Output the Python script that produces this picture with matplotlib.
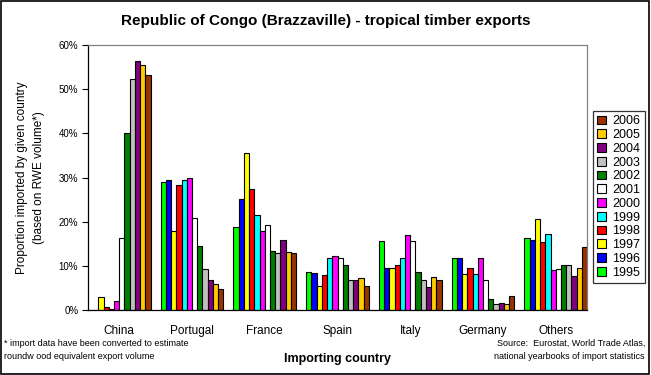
import matplotlib
matplotlib.use("Agg")
import matplotlib.pyplot as plt
import numpy as np
from matplotlib.patches import Rectangle, Patch

plt.rcParams['font.family'] = ['Liberation Sans', 'DejaVu Sans']

countries = ["China", "Portugal", "France", "Spain", "Italy", "Germany", "Others"]
years = ["1995", "1996", "1997", "1998", "1999", "2000",
         "2001", "2002", "2003", "2004", "2005", "2006"]

# share (%) imported by each country, one list per year
y1995 = [0.0, 28.9, 18.7, 8.5, 15.6, 11.7, 16.2]
y1996 = [0.0, 29.4, 25.1, 8.3, 9.4, 11.7, 15.8]
y1997 = [3.0, 17.8, 35.5, 5.4, 9.4, 8.1, 20.5]
y1998 = [0.75, 28.2, 27.5, 7.9, 10.3, 9.4, 15.3]
y1999 = [0.15, 29.4, 21.4, 11.7, 11.7, 8.1, 17.1]
y2000 = [2.0, 30.0, 17.8, 12.2, 16.9, 11.7, 9.0]
y2001 = [16.2, 20.8, 19.2, 11.7, 15.6, 6.7, 9.2]
y2002 = [40.0, 14.6, 13.3, 10.3, 8.5, 2.4, 10.1]
y2003 = [52.2, 9.2, 12.8, 6.9, 6.7, 1.3, 10.1]
y2004 = [56.3, 6.7, 15.8, 6.7, 5.1, 1.5, 7.6]
y2005 = [55.4, 5.8, 13.1, 7.2, 7.4, 1.3, 9.4]
y2006 = [53.1, 4.75, 12.8, 5.4, 6.7, 3.1, 14.2]

series = [y1995, y1996, y1997, y1998, y1999, y2000,
          y2001, y2002, y2003, y2004, y2005, y2006]
colors = ["#00FF00", "#0000FF", "#FFFF00", "#FF0000", "#00FFFF", "#FF00FF",
          "#FFFFFF", "#008000", "#C0C0C0", "#800080", "#FFCC00", "#993300"]

fig = plt.figure(figsize=(6.51, 3.75), dpi=100)
ax = fig.add_axes([88 / 651, 65 / 375, 499 / 651, 265 / 375])

group = 0.86
w = group / len(years)
x = np.arange(len(countries))
for i, (vals, c) in enumerate(zip(series, colors)):
    ax.bar(x - group / 2 + w * (i + 0.5), vals, width=w, color=c,
           edgecolor="black", linewidth=0.8, label=years[i])

ax.set_xlim(-group / 2, len(countries) - 1 + group / 2)
ax.set_ylim(0, 60)
ax.set_yticks(range(0, 61, 10))
ax.set_yticklabels([f"{v}%" for v in range(0, 61, 10)], fontsize=7)
ax.set_xticks(x)
ax.set_xticklabels(countries, fontsize=8.5)
ax.tick_params(axis="x", length=0, pad=11)
ax.tick_params(axis="y", direction="out", length=4, width=0.8, pad=3)
for s in ["top", "right"]:
    ax.spines[s].set_color("#808080")
for s in ["left", "bottom"]:
    ax.spines[s].set_color("black")
for s in ax.spines.values():
    s.set_linewidth(0.9)

ax.set_ylabel("Proportion imported by given country\n(based on RWE volume*)",
              fontsize=8.5, labelpad=10, linespacing=1.5)

fig.text(0.5, 0.945, "Republic of Congo (Brazzaville) - tropical timber exports",
         ha="center", va="center", fontsize=11, fontweight="bold")
fig.text(337 / 651, 1 - 359 / 375, "Importing country", ha="center",
         va="center", fontsize=9, fontweight="bold")
fig.text(4 / 651, 1 - 350 / 375,
         "* import data have been converted to estimate\nroundw ood equivalent export volume",
         ha="left", va="center", fontsize=6.5, linespacing=1.6)
fig.text(645 / 651, 1 - 350 / 375,
         "Source:  Eurostat, World Trade Atlas,\nnational yearbooks of import statistics",
         ha="right", va="center", fontsize=6.5, linespacing=1.6)

handles = [Patch(facecolor=c, edgecolor="black", linewidth=0.8) for c in colors]
leg = fig.legend(handles[::-1], years[::-1], loc="upper left",
                 bbox_to_anchor=(593 / 651, 1 - 111 / 375), fontsize=9,
                 frameon=True, fancybox=False, edgecolor="black",
                 handlelength=0.7, handleheight=0.7, handletextpad=0.5,
                 labelspacing=0.14, borderpad=0.35, borderaxespad=0)
leg.get_frame().set_linewidth(0.9)

fig.patches.append(Rectangle((0.002, 0.003), 0.995, 0.994, transform=fig.transFigure,
                             fill=False, edgecolor="black", linewidth=1.2))

fig.savefig("out.png", dpi=100)
